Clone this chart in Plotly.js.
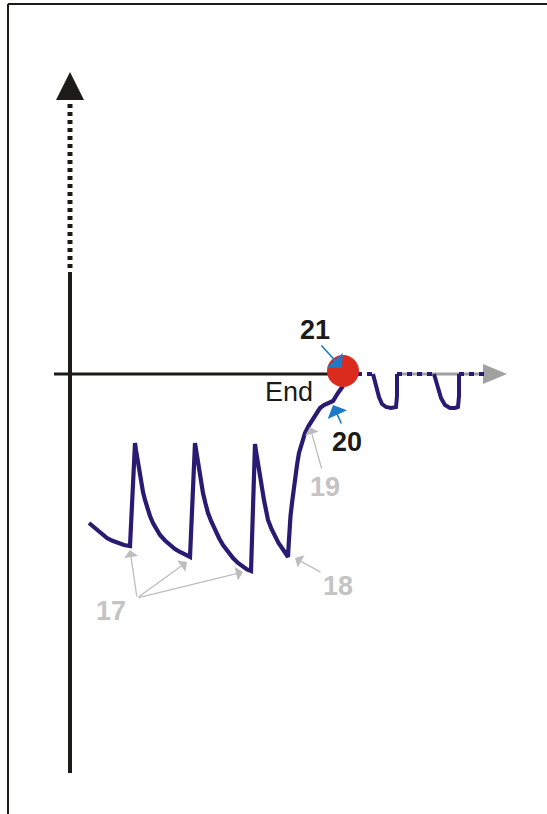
<!DOCTYPE html>
<html>
<head>
<meta charset="utf-8">
<script src="https://cdn.plot.ly/plotly-3.0.1.min.js"></script>
<style>html,body{margin:0;padding:0;background:#fff;}#chart{width:547px;height:814px;}</style>
</head>
<body>
<div id="chart"></div>
<script>
// Main response curve (time, value) – origin at axis crossing
var curveX = [19,27,32,37,42.5,48,54,60,
              65,66,67,68.5,70,71.5,73,75,77,80,83,86.5,90,95,100,105,110,115,120,
              125,126,127,128.5,130,131.5,133,135.5,138,141.5,145,149,153,158,163,168,173,177,181,
              185,186,187,188.5,190,192,194,196,198,201.5,205,208.5,212,215,218,
              218.7,219.3,220.5,222,223.5,225,227,229,232,235,238.5,242,246,250,254,258,263,268,273];
var curveY = [-149,-156,-160.5,-164,-166.8,-169,-171,-172,
              -69,-76,-83,-91,-99,-109,-118,-126,-134,-142,-149,-155.5,-161,-166.5,-171,-175,-178,-180.8,-183,
              -69,-76,-83,-92,-101,-110,-119,-129.5,-139,-148,-156,-164,-171,-178,-184,-189,-193,-195.5,-197,
              -70,-77,-84,-93.5,-103,-114.5,-126,-136,-146,-155,-163,-169,-174,-178.5,-183,
              -170,-156,-142,-129,-116,-103,-91,-79,-68.5,-59,-52,-46,-39.5,-34,-31,-29,-27,-19,-12];
// Dips after the end point
var dipX = [303,306,309,312,316,321,326,327,327,null,364,367,371,375,380,385,388,389,389];
var dipY = [0,-12,-23,-30,-33,-34,-33,-22,0,null,0,-12,-24,-31,-34,-34,-33,-22,0];
// Dotted continuation along the time axis
var dotX = [287,303,null,327,364,null,389,415];
var dotY = [0,0,null,0,0,null,0,0];
// End point
var endX = [273];
var endY = [3];
// Labels
var labelText = ["21","End","20","19","18","17"];
var labelX = [245,219,277,255,268,41];
var labelY = [44,-18,-68,-113,-212,-237];
var labelColor = ["#1e1a17","#1e1a17","#1e1a17","#c4c4c4","#c4c4c4","#c4c4c4"];
var labelBold = [true,false,true,true,true,true];
// Pointer arrows: tail -> tip
var arrowTailX = [250,272,252,252,67,67,67];
var arrowTailY = [30,-51,-96,-199,-224,-224,-224];
var arrowTipX = [272,263,240,225,60,117,173];
var arrowTipY = [6,-31,-53,-184,-176,-188,-198];
var arrowColor = ["#1b7bc6","#1b7bc6","#bdbdbd","#bdbdbd","#bdbdbd","#bdbdbd","#bdbdbd"];

var NAVY = "#2b1a72";
var DARK = "#1e1a17";

var traces = [
  {x: dotX, y: dotY, mode: "lines", line: {color: NAVY, width: 4, dash: "5px,5px"}, hoverinfo: "skip"},
  {x: curveX, y: curveY, mode: "lines", line: {color: NAVY, width: 4.2, shape: "linear"}, hoverinfo: "skip"},
  {x: dipX, y: dipY, mode: "lines", line: {color: NAVY, width: 4}, connectgaps: false, hoverinfo: "skip"},
  {x: endX, y: endY, mode: "markers", marker: {color: "#db2a1e", size: 32, line: {width: 0}}, hoverinfo: "skip"}
];

var annotations = [];
for (var i = 0; i < labelText.length; i++) {
  annotations.push({
    x: labelX[i], y: labelY[i], xref: "x", yref: "y",
    text: labelBold[i] ? "<b>" + labelText[i] + "</b>" : labelText[i],
    showarrow: false, xanchor: "center", yanchor: "middle",
    font: {family: "Liberation Sans, Arial, sans-serif", size: 27, color: labelColor[i]}
  });
}
for (var j = 0; j < arrowTipX.length; j++) {
  annotations.push({
    x: arrowTipX[j], y: arrowTipY[j], xref: "x", yref: "y",
    ax: arrowTailX[j], ay: arrowTailY[j], axref: "x", ayref: "y",
    text: "", showarrow: true, arrowhead: 1, arrowsize: j < 2 ? 2.2 : 1.8,
    arrowwidth: j < 2 ? 1.6 : 1.3, arrowcolor: arrowColor[j], standoff: 0, startstandoff: 0
  });
}

var shapes = [
  // frame
  {type: "line", xref: "x", yref: "y", x0: -62, y0: -445, x1: -62, y1: 370, line: {color: DARK, width: 2}},
  {type: "line", xref: "x", yref: "y", x0: -62, y0: 370, x1: 480, y1: 370, line: {color: DARK, width: 2}},
  // value axis solid part
  {type: "line", xref: "x", yref: "y", x0: 0, y0: -399, x1: 0, y1: 102, line: {color: DARK, width: 4}, layer: "below"},
  // value axis dotted part
  {type: "line", xref: "x", yref: "y", x0: 0, y0: 106, x1: 0, y1: 275, line: {color: DARK, width: 5, dash: "4px,4px"}, layer: "below"},
  // value axis arrowhead
  {type: "path", xref: "x", yref: "y", path: "M -14 274 L 14 274 L 0 302 Z", fillcolor: DARK, line: {width: 0}},
  // time axis
  {type: "line", xref: "x", yref: "y", x0: -16, y0: 0, x1: 265, y1: 0, line: {color: DARK, width: 3}, layer: "below"},
  // time axis continuation (grey)
  {type: "line", xref: "x", yref: "y", x0: 327, y0: 0, x1: 415, y1: 0, line: {color: "#a0a0a0", width: 3}, layer: "below"},
  {type: "path", xref: "x", yref: "y", path: "M 413 10 L 413 -10 L 437 0 Z", fillcolor: "#a0a0a0", line: {width: 0}, layer: "below"}
];

var layout = {
  width: 547, height: 814,
  margin: {l: 0, r: 0, t: 0, b: 0, pad: 0},
  paper_bgcolor: "#ffffff", plot_bgcolor: "#ffffff",
  showlegend: false,
  xaxis: {range: [-70, 477], visible: false, fixedrange: true},
  yaxis: {range: [-440, 374], visible: false, fixedrange: true},
  shapes: shapes,
  annotations: annotations
};

Plotly.newPlot("chart", traces, layout, {staticPlot: true, displayModeBar: false});
</script>
</body>
</html>
